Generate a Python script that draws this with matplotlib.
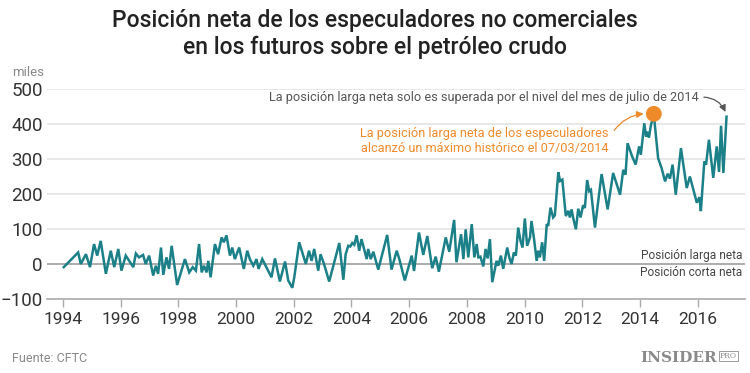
import matplotlib.pyplot as plt
from matplotlib.patches import FancyArrowPatch

plt.rcParams['font.family'] = ['Roboto', 'DejaVu Sans']

# Fecha (año decimal) y posición neta (miles de contratos)
years = [
    1994.03, 1994.53, 1994.62, 1994.80, 1994.94, 1995.08, 1995.19, 1995.31, 1995.49, 1995.66,
    1995.78, 1995.92, 1996.03, 1996.18, 1996.44, 1996.53, 1996.64, 1996.78, 1996.87, 1996.99,
    1997.13, 1997.22, 1997.30, 1997.40, 1997.48, 1997.59, 1997.68, 1997.77, 1997.96, 1998.23,
    1998.38, 1998.50, 1998.61, 1998.72, 1998.81, 1998.89, 1998.98, 1999.04, 1999.12, 1999.27,
    1999.38, 1999.50, 1999.58, 1999.67, 1999.79, 1999.87, 1999.96, 2000.11, 2000.27, 2000.39,
    2000.48, 2000.60, 2000.71, 2000.78, 2000.91, 2001.23, 2001.35, 2001.52, 2001.70, 2001.81,
    2001.95, 2002.02, 2002.19, 2002.42, 2002.53, 2002.62, 2002.71, 2002.85, 2002.93, 2003.05,
    2003.23, 2003.58, 2003.72, 2003.80, 2003.89, 2003.96, 2004.03, 2004.10, 2004.18, 2004.27,
    2004.35, 2004.53, 2004.58, 2004.67, 2004.76, 2004.93, 2005.24, 2005.39, 2005.57, 2005.66,
    2005.85, 2006.09, 2006.17, 2006.34, 2006.49, 2006.63, 2006.80, 2006.92, 2007.03, 2007.27,
    2007.39, 2007.56, 2007.64, 2007.80, 2007.88, 2007.96, 2008.05, 2008.17, 2008.26, 2008.34,
    2008.40, 2008.47, 2008.57, 2008.65, 2008.72, 2008.80, 2008.88, 2009.03, 2009.09, 2009.18,
    2009.26, 2009.40, 2009.47, 2009.55, 2009.63, 2009.70, 2009.78, 2009.86, 2009.93, 2010.01,
    2010.09, 2010.19, 2010.24, 2010.33, 2010.42, 2010.47, 2010.53, 2010.61, 2010.68, 2010.77,
    2010.82, 2010.90, 2010.99, 2011.05, 2011.17, 2011.23, 2011.31, 2011.43, 2011.52, 2011.57,
    2011.63, 2011.69, 2011.78, 2011.86, 2011.94, 2012.03, 2012.09, 2012.17, 2012.24, 2012.30,
    2012.44, 2012.67, 2012.88, 2013.07, 2013.31, 2013.42, 2013.50, 2013.57, 2013.73, 2013.85,
    2013.97, 2014.03, 2014.15, 2014.21, 2014.25, 2014.31, 2014.38, 2014.48, 2014.63, 2014.75,
    2014.87, 2014.96, 2015.04, 2015.13, 2015.24, 2015.42, 2015.62, 2015.73, 2015.97, 2016.06,
    2016.11, 2016.23, 2016.29, 2016.39, 2016.54, 2016.66, 2016.74, 2016.81, 2016.89, 2017.00,
]
net_position = [
    -9, 33, 0, 28, -9, 57, 24, 66, -28, 38,
    -9, 43, -19, 24, -9, 30, 19, 26, 0, 24,
    -33, -5, -28, 47, -31, 19, -14, 52, -60, 14,
    -24, -9, -19, 57, -24, -5, -24, 9, -38, 57,
    28, 76, 62, 82, 24, 47, 14, 47, -14, 38,
    14, -5, 14, -14, 14, -38, 16, -50, 7, -47,
    -68, -38, 62, 0, 38, 9, 43, -19, 28, 0,
    -50, 60, -45, 28, 52, 50, 60, 55, 82, 38,
    71, 14, 43, 14, 35, -16, 83, -16, 38, 14,
    -47, 24, -20, 90, 26, 80, -12, 21, -22, 76,
    35, 126, 5, 85, 14, 99, 19, 114, 19, 57,
    19, 21, -7, 43, 16, 71, -52, 9, -5, 24,
    -14, 47, 19, 0, 33, 24, 104, 66, 47, 130,
    52, 76, 123, 71, 9, 38, 19, 62, 9, 114,
    109, 161, 133, 139, 262, 237, 241, 137, 152, 133,
    156, 130, 99, 158, 133, 168, 160, 240, 208, 212,
    104, 257, 156, 260, 198, 269, 255, 345, 307, 284,
    336, 312, 402, 364, 378, 361, 397, 427, 302, 274,
    236, 258, 244, 284, 198, 331, 217, 250, 175, 191,
    151, 293, 284, 355, 246, 336, 263, 395, 260, 421,
]
peak_year = 2014.48
peak_value = 429
x_ticks = list(range(1994, 2017, 2))
y_ticks = [-100, 0, 100, 200, 300, 400, 500]

line_color = '#1b8088'
orange = '#ef8a2b'

fig = plt.figure(figsize=(7.5, 3.73), dpi=100)
ax = fig.add_axes([47 / 750, 1 - 299 / 373, 698 / 750, 210 / 373])

for y in y_ticks[2:]:
    ax.axhline(y, color='#e2e2e2', lw=1.1, zorder=1)
ax.axhline(0, color='#a6a6a6', lw=1.3, zorder=1)

ax.plot(years, net_position, color=line_color, lw=1.8, solid_joinstyle='miter', zorder=3)
ax.scatter([peak_year], [peak_value], s=130, color=orange, zorder=4, edgecolors='none')

ax.set_xlim(1993.45, 2017.64)
ax.set_ylim(-100, 500)
ax.set_xticks(x_ticks)
ax.set_yticks(y_ticks)
ax.tick_params(axis='x', length=6, width=1, color='#aaaaaa', labelsize=12.5,
               labelcolor='#333333', pad=3)
ax.tick_params(axis='y', length=0, labelsize=13.5, labelcolor='#333333', pad=3)
for s in ['top', 'right', 'left']:
    ax.spines[s].set_visible(False)
ax.spines['bottom'].set_color('#aaaaaa')
ax.spines['bottom'].set_linewidth(1.2)

fig.text(0.5, 1 - 34 / 373, 'Posición neta de los especuladores no comerciales\n'
         'en los futuros sobre el petróleo crudo', ha='center', va='center',
         fontsize=16.5, color='#222222', fontweight='medium', linespacing=1.25)
fig.text(12 / 750, 1 - 73 / 373, 'miles', fontsize=9.5, color='#888888', va='center')
fig.text(12 / 750, 1 - 358 / 373, 'Fuente: CFTC', fontsize=9, color='#888888', va='center')
fig.text(717 / 750, 1 - 358 / 373, 'INSIDER', fontsize=11, color='#8a8a8a', va='center',
         ha='right', family='DejaVu Serif', fontweight='bold')
fig.text(720 / 750, 1 - 356 / 373, 'PRO', fontsize=5.5, color='#8a8a8a', va='center',
         ha='left', family='DejaVu Serif',
         bbox=dict(boxstyle='square,pad=0.15', fc='none', ec='#8a8a8a', lw=0.6))

# anotaciones
ax.text(2016.05, 477, 'La posición larga neta solo es superada por el nivel del mes de julio de 2014',
        ha='right', va='center', fontsize=9.2, color='#555555')
ax.add_patch(FancyArrowPatch((2016.12, 477), (2017.0, 427), connectionstyle='arc3,rad=-0.35',
                             arrowstyle='-|>,head_length=4,head_width=2', color='#555555',
                             lw=0.9, zorder=5))
ax.text(2012.9, 352, 'La posición larga neta de los especuladores\n'
        'alcanzó un máximo histórico el 07/03/2014', ha='right', va='center',
        fontsize=9.2, color=orange, linespacing=1.25, multialignment='right')
ax.add_patch(FancyArrowPatch((2013.05, 375), (2014.22, 430), connectionstyle='arc3,rad=-0.25',
                             arrowstyle='-|>,head_length=4,head_width=2', color=orange,
                             lw=0.9, zorder=5))
ax.text(2017.55, 7, 'Posición larga neta', ha='right', va='bottom', fontsize=8.6, color='#444444')
ax.text(2017.55, -5, 'Posición corta neta', ha='right', va='top', fontsize=8.6, color='#444444')

fig.savefig('out.png', dpi=100, facecolor='white')
